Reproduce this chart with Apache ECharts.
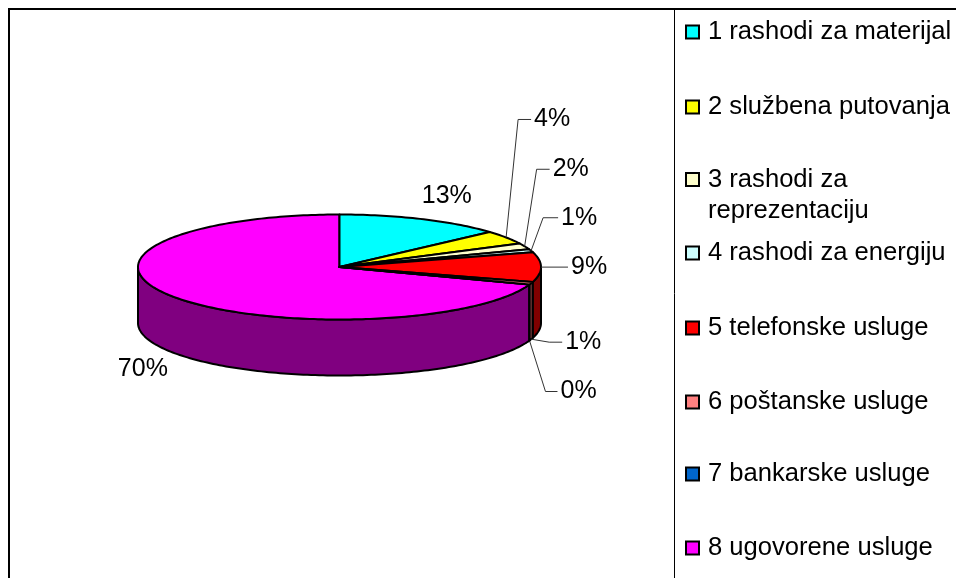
<!DOCTYPE html>
<html><head><meta charset="utf-8">
<style>html,body{margin:0;padding:0;background:#fff}#c{width:956px;height:578px}</style>
<script src="https://cdn.jsdelivr.net/npm/echarts@6/dist/echarts.min.js"></script>
</head><body><div id="c"></div>
<script>
var categories = ['1 rashodi za materijal','2 službena putovanja','3 rashodi za reprezentaciju','4 rashodi za energiju','5 telefonske usluge','6 poštanske usluge','7 bankarske usluge','8 ugovorene usluge'];
var shares = [13.4, 4.2, 1.9, 1.0, 9.1, 0.8, 0.05, 69.6];
var percentLabels = ['13%','4%','2%','1%','9%','1%','0%','70%'];
var topColors = ['#00FFFF','#FFFF00','#FFFFCC','#CCFFFF','#FF0000','#FF8080','#0066CC','#FF00FF'];
var sideColors = ['#008080','#808000','#808066','#668080','#800000','#804040','#003366','#800080'];

// layout of the tilted pie
var CX = 339.5, CY = 267, RX = 201.5, RY = 52.5, DEPTH = 56;
var FONT = 'Liberation Sans, Arial, sans-serif';
// where each label's leader goes, relative to its slice's rim point: [elbow dx, dy, end dx, dy]; null = no leader
var leaders = [null,[12,-118,25,-118],[12,-77,25,-77],[12,-33,27,-33],[0,0,27,0],[18,3,31,3],[16,51,28,51],null];
var labelOffsets = [[25,-23],null,null,null,null,null,null,[-32,72]];
var legendCentres = [32,107,175,253,328,402,474,548];

var total = shares.reduce(function(a,b){return a+b;},0);
function rim(a,dz){return [CX+RX*Math.sin(a), CY-RY*Math.cos(a)+(dz||0)];}
function startAngle(i){var s=0;for(var k=0;k<i;k++)s+=shares[k];return s/total*Math.PI*2;}
function arcPts(a0,a1,dz){var n=Math.max(2,Math.ceil((a1-a0)/0.02)),p=[];for(var j=0;j<=n;j++)p.push(rim(a0+(a1-a0)*j/n,dz));return p;}

function render(i){
  return function(params,api){
    var a0=startAngle(i), a1=a0+api.value(0)/total*Math.PI*2, kids=[];
    var sA=Math.max(a0,Math.PI/2), sB=Math.min(a1,Math.PI*1.5);
    var line={stroke:'#000',lineWidth:2,lineJoin:'round'};
    if(sB>sA){
      kids.push({type:'polygon',shape:{points:arcPts(sA,sB,0).concat(arcPts(sA,sB,DEPTH).reverse())},
        style:Object.assign({fill:sideColors[i]},line)});
    }
    kids.push({type:'polygon',shape:{points:[[CX,CY]].concat(arcPts(a0,a1,0))},
      style:Object.assign({fill:topColors[i]},line)});
    var mid=(a0+a1)/2, m=rim(mid,(i===5||i===6)?DEPTH:0), L=leaders[i];
    if(L){
      kids.push({type:'polyline',z2:5,shape:{points:[m,[m[0]+L[0],m[1]+L[1]],[m[0]+L[2],m[1]+L[3]]]},
        style:{stroke:'#333',lineWidth:1,fill:null}});
      kids.push({type:'text',z2:6,style:{x:m[0]+L[2]+3,y:m[1]+L[3],text:percentLabels[i],fill:'#000',
        font:'25px '+FONT,textAlign:'left',textVerticalAlign:'middle'}});
    } else {
      var o=labelOffsets[i], c=rim(mid,0);
      kids.push({type:'text',z2:6,style:{x:c[0]+o[0],y:c[1]+o[1],text:percentLabels[i],fill:'#000',
        font:'25px '+FONT,textAlign:'center',textVerticalAlign:'middle'}});
    }
    return {type:'group',children:kids};
  };
}

var series = categories.map(function(name,i){
  return {type:'custom',name:name,coordinateSystem:'none',data:[[shares[i]]],silent:true,animation:false,
    z:i===5?3:(i===7?1:2),
    itemStyle:{color:topColors[i],borderColor:'#000',borderWidth:1.5},renderItem:render(i)};
});
var legends = categories.map(function(name,i){
  return {data:[name],orient:'vertical',left:685,top:legendCentres[i]-(i===2?42:14),padding:0,
    selectedMode:false,icon:'rect',itemWidth:13,itemHeight:13,
    formatter:function(n){return i===2?'\n3 rashodi za\nreprezentaciju':n;},
    textStyle:{fontFamily:FONT,fontSize:25.6,color:'#000',lineHeight:i===2?31:28,padding:[0,0,0,4]}};
});
var chart = echarts.init(document.getElementById('c'),null,{renderer:'canvas'});
chart.setOption({
  animation:false,backgroundColor:'#fff',
  legend:legends,
  series:series,
  graphic:[
    {type:'polyline',shape:{points:[[9,578],[9,9],[956,9]]},style:{stroke:'#000',lineWidth:2,fill:null}},
    {type:'line',shape:{x1:674.5,y1:9,x2:674.5,y2:578},style:{stroke:'#000',lineWidth:1}}
  ]
});
</script></body></html>
